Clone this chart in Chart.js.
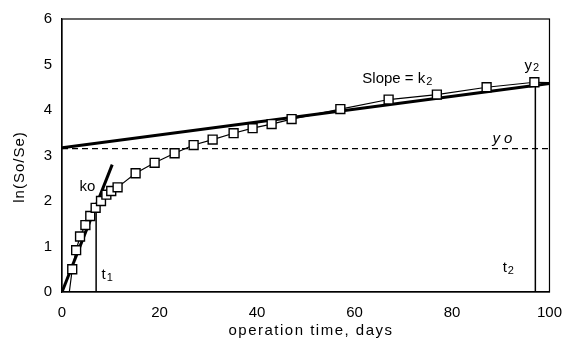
<!DOCTYPE html>
<html>
<head>
<meta charset="utf-8">
<script src="https://cdn.jsdelivr.net/npm/chart.js@4"></script>
<style>
  html, body { margin: 0; padding: 0; background: #fff; }
  #wrap { width: 574px; height: 351px; }
</style>
</head>
<body>
<div id="wrap"><canvas id="chart"></canvas></div>
<script>
// measured points
var days = [2.1, 2.9, 3.7, 4.8, 5.8, 6.9, 8.0, 9.1, 10.1, 11.4, 15.1, 19, 23.1, 27, 30.9, 35.2, 39.1, 43, 47.1, 57.1, 67, 76.9, 87.1, 96.9];
var lnRatio = [0.5, 0.92, 1.22, 1.47, 1.67, 1.85, 2.0, 2.14, 2.22, 2.3, 2.61, 2.84, 3.05, 3.23, 3.35, 3.49, 3.6, 3.69, 3.8, 4.02, 4.23, 4.34, 4.5, 4.61];

// fitted model curve (thin line)
var curveDays = [1.5, 2.1, 2.9, 3.7, 4.8, 5.8, 6.9, 8.0, 9.1, 10.1, 11.4, 15.1, 19, 23.1, 27, 30.9, 35.2, 39.1, 43, 47.1, 57.1, 67, 76.9, 87.1, 96.9, 100];
var curveLn = [0, 0.5, 0.92, 1.22, 1.47, 1.67, 1.85, 2.0, 2.14, 2.22, 2.3, 2.61, 2.84, 3.05, 3.23, 3.35, 3.49, 3.6, 3.69, 3.8, 4.02, 4.23, 4.34, 4.5, 4.61, 4.6];

// straight lines
var koDays = [0, 10.3];
var koLn = [0, 2.8];
var k2Days = [0, 100];
var k2Ln = [3.17, 4.58];
var yoDays = [0, 100];
var yoLn = [3.15, 3.15];
var t1Days = [7, 7];
var t1Ln = [0, 1.8];
var t2Days = [97.1, 97.1];
var t2Ln = [0, 4.7];

var xTicks = [0, 20, 40, 60, 80, 100];
var yTicks = [0, 1, 2, 3, 4, 5, 6];

function pts(xs, ys) {
    return xs.map(function (x, i) { return { x: x, y: ys[i] }; });
}

function lineSet(xs, ys, width, dash, order) {
    return {
        data: pts(xs, ys),
        showLine: true,
        borderColor: '#000',
        borderWidth: width,
        borderDash: dash || [],
        pointRadius: 0,
        fill: false,
        order: order
    };
}

// text labels: [text, subscript, x, y, italic]
var notes = [
    ['Slope = k', '2', 61.6, 4.68, false],
    ['y', '2', 94.9, 4.98, false],
    ['y o', '', 88.3, 3.36, true],
    ['ko', '', 3.6, 2.32, false],
    ['t', '1', 8.1, 0.37, false],
    ['t', '2', 90.4, 0.52, false]
];

var FONT = '"Liberation Sans", Arial, sans-serif';

var annotate = {
    id: 'annotate',
    afterDraw: function (chart) {
        var ctx = chart.ctx;
        var a = chart.chartArea;
        var xs = chart.scales.x, ys = chart.scales.y;
        ctx.save();
        // frame
        ctx.strokeStyle = '#000';
        ctx.lineWidth = 1.2;
        ctx.strokeRect(a.left, a.top, a.right - a.left, a.bottom - a.top);
        ctx.fillStyle = '#000';
        ctx.textBaseline = 'middle';
        ctx.textAlign = 'left';
        notes.forEach(function (n) {
            var px = xs.getPixelForValue(n[2]);
            var py = ys.getPixelForValue(n[3]);
            ctx.font = (n[4] ? 'italic ' : '') + '15px ' + FONT;
            ctx.fillText(n[0], px, py);
            if (n[1]) {
                var w = ctx.measureText(n[0]).width;
                ctx.font = '11px ' + FONT;
                ctx.fillText(n[1], px + w + 1, py + 3);
            }
        });
        // axis titles
        ctx.font = '15px ' + FONT;
        ctx.letterSpacing = '1.5px';
        ctx.textAlign = 'center';
        ctx.fillText('operation time, days', 311, 331);
        ctx.letterSpacing = '1px';
        ctx.translate(20, 167);
        ctx.rotate(-Math.PI / 2);
        ctx.fillText('ln(So/Se)', 0, 0);
        ctx.restore();
    }
};

var chart = new Chart(document.getElementById('chart'), {
    type: 'scatter',
    data: {
        datasets: [
            {
                data: pts(days, lnRatio),
                pointStyle: 'rect',
                pointRadius: 6.3,
                pointBackgroundColor: '#fff',
                pointBorderColor: '#000',
                pointBorderWidth: 1.4,
                showLine: false,
                order: 0
            },
            lineSet(curveDays, curveLn, 1.2, null, 3),
            lineSet(koDays, koLn, 3, null, 2),
            lineSet(k2Days, k2Ln, 3, null, 2),
            lineSet(yoDays, yoLn, 1.2, [6, 4], 4),
            lineSet(t1Days, t1Ln, 1.5, null, 4),
            lineSet(t2Days, t2Ln, 1.5, null, 4)
        ]
    },
    options: {
        responsive: true,
        maintainAspectRatio: false,
        animation: false,
        layout: { padding: { top: 15, right: 24, left: 0, bottom: 0 } },
        plugins: {
            legend: { display: false },
            tooltip: { enabled: false }
        },
        scales: {
            x: {
                type: 'linear',
                min: 0,
                max: 100,
                afterFit: function (s) { s.height = 59; },
                afterBuildTicks: function (s) { s.ticks = xTicks.map(function (v) { return { value: v }; }); },
                grid: { display: false, drawTicks: false },
                border: { display: true, color: '#000', width: 1.2 },
                ticks: { color: '#000', font: { family: FONT, size: 15 }, padding: 12 }
            },
            y: {
                type: 'linear',
                min: 0,
                max: 6,
                afterFit: function (s) { s.width = 62; },
                afterBuildTicks: function (s) { s.ticks = yTicks.map(function (v) { return { value: v }; }); },
                grid: { display: false, drawTicks: false },
                border: { display: true, color: '#000', width: 1.2 },
                ticks: { color: '#000', font: { family: FONT, size: 15 }, padding: 10 }
            }
        }
    },
    plugins: [annotate]
});
</script>
</body>
</html>
